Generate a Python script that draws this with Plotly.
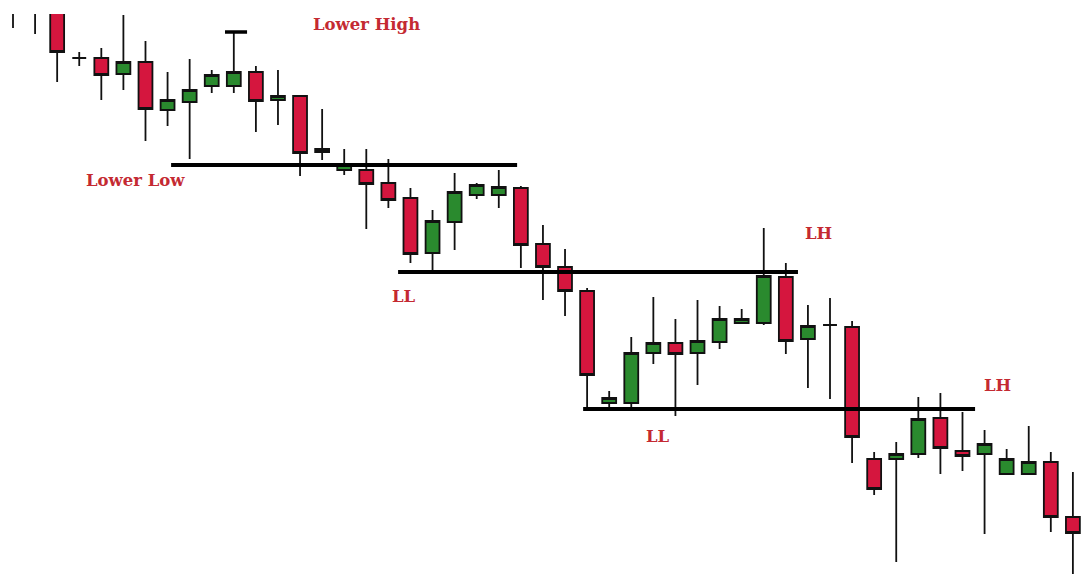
import plotly.graph_objects as go

# candle index 0..49, prices on an arbitrary scale
idx = list(range(50))
opens = [612, 610, 600, 542, 542, 526, 538, 490, 498, 514,
         514, 528, 500, 504, 448, 430, 430, 417, 402, 347,
         378, 405, 405, 412, 356, 333, 309, 197, 197, 247,
         257, 247, 258, 277, 277, 323, 261, 275, 273, 141,
         141, 146, 182, 149, 146, 126, 126, 138, 83, 67]
highs = [620, 615, 610, 548, 552, 585, 559, 528, 541, 530,
         568, 534, 530, 505, 491, 451, 451, 441, 412, 390,
         427, 417, 430, 414, 375, 351, 312, 209, 263, 303,
         281, 300, 294, 291, 372, 337, 295, 302, 279, 148,
         158, 203, 207, 188, 170, 151, 174, 148, 128, 75]
lows = [572, 566, 518, 534, 500, 510, 459, 474, 441, 507,
        507, 468, 475, 424, 440, 425, 371, 392, 337, 328,
        350, 401, 392, 332, 300, 284, 192, 190, 192, 236,
        184, 215, 251, 277, 275, 246, 212, 201, 137, 105,
        38, 142, 126, 129, 66, 126, 126, 68, 10, 20]
closes = [590, 592, 548, 542, 525, 538, 491, 500, 510, 525,
          528, 499, 504, 447, 451, 435, 416, 400, 346, 379,
          408, 415, 413, 355, 333, 309, 225, 202, 247, 257,
          246, 259, 281, 281, 324, 259, 274, 275, 163, 111,
          146, 181, 152, 144, 156, 141, 138, 83, 67, 50]

# support / resistance levels drawn on the chart
level_price = [435, 328, 191, 568]
level_from = [7.16, 17.44, 25.82, 9.6]
level_to = [22.83, 35.55, 43.57, 10.6]
level_width = [4, 4, 4, 3.5]

labels = ["Lower High", "Lower Low", "LL", "LL", "LH", "LH"]
label_x = [16.03, 5.57, 17.7, 29.2, 36.46, 44.6]
label_y = [576, 420, 304, 164, 367, 215]

fig = go.Figure()
fig.add_trace(go.Candlestick(
    x=idx, open=opens, high=highs, low=lows, close=closes,
    increasing=dict(line=dict(color='#111111', width=1.8), fillcolor='#2a8a2e'),
    decreasing=dict(line=dict(color='#111111', width=1.8), fillcolor='#d5163e'),
    whiskerwidth=0, hoverinfo='skip'))

for p, a, b, w in zip(level_price, level_from, level_to, level_width):
    fig.add_trace(go.Scatter(x=[a, b], y=[p, p], mode='lines',
                             line=dict(color='black', width=w), hoverinfo='skip'))

for t, x, y in zip(labels, label_x, label_y):
    fig.add_annotation(x=x, y=y, text='<b>' + t + '</b>', showarrow=False,
                       font=dict(family='DejaVu Serif', size=16.5, color='#c42a32'))

# page body has an 8px margin, so the figure is 8px smaller than the window
fig.update_layout(
    width=1083, height=566,
    margin=dict(l=0, r=0, t=6, b=0),
    paper_bgcolor='white', plot_bgcolor='white',
    showlegend=False, boxgap=0.37, boxgroupgap=0,
    xaxis=dict(visible=False, range=[-0.2264, 48.82], rangeslider=dict(visible=False)),
    yaxis=dict(visible=False, range=[26, 586]),
)
fig.write_html("out.html")
